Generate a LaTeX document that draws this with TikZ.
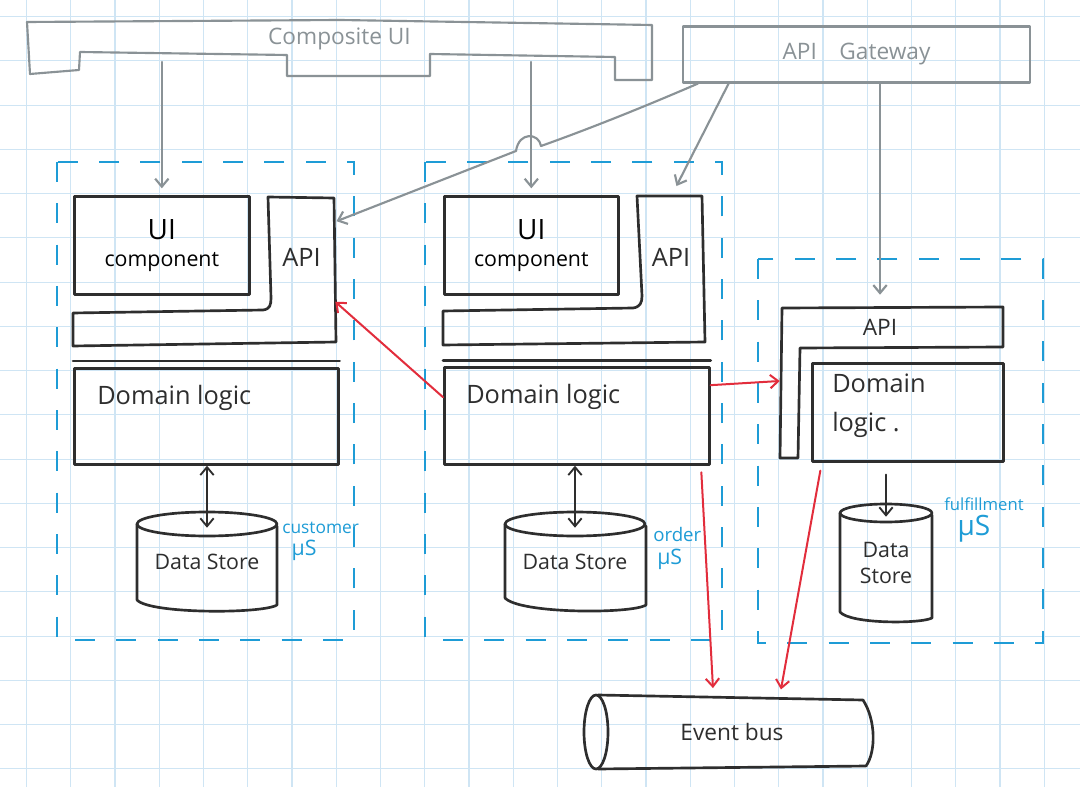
\documentclass[tikz,border=0pt]{standalone}
\usepackage{fontspec}
\setmainfont{Open Sans}
\usetikzlibrary{arrows.meta}

\definecolor{penink}{RGB}{46,46,46}
\definecolor{pengray}{RGB}{138,146,150}
\definecolor{penblue}{RGB}{30,156,214}
\definecolor{penred}{RGB}{226,45,60}
\definecolor{gridblue}{RGB}{207,229,244}

\begin{document}
\begin{tikzpicture}[x=0.75pt,y=0.75pt,yscale=-1,xscale=1,
  ink/.style={draw=penink, line width=2pt, line cap=round, line join=round},
  graypen/.style={draw=pengray, line width=1.6pt, line cap=round, line join=round},
  box/.style={ink, anchor=north west, inner sep=0pt, align=center},
  tag/.style={inner sep=0pt, minimum width=0pt, text=penink},
  msbox/.style={draw=penblue, line width=2.2pt, dash pattern=on 15pt off 16pt},
  barb/.tip={Straight Barb[length=6pt,width=10pt]},
  grayarrow/.style={graypen, -barb},
  inkarrow/.style={draw=penink, line width=1.4pt, line cap=round},
  redarrow/.style={draw=penred, line width=1.5pt, line cap=round, -barb},
  bluelbl/.style={inner sep=0.75pt, text=penblue, align=left, font=\fontsize{13}{16}\selectfont},
  gridline/.style={draw=gridblue, line width=0.8pt}]
\useasboundingbox (0,0) rectangle (1080,787);
\fill[white] (0,0) rectangle (1080,787);

% grid paper
\foreach \gx in {0,...,23} \draw[gridline] ({26.5+44.25*\gx},0) -- ({26.5+44.25*\gx},787);
\foreach \gy in {0,...,17} \draw[gridline] (0,{16.7+44.25*\gy}) -- (1080,{16.7+44.25*\gy});

%Shape: Composite UI
\draw[graypen] (27,22) -- (340,20) -- (652,25) -- (652,80) -- (615,80) -- (615,57) -- (430,54) -- (430,76) -- (287,76) -- (287,55) -- (80,52) -- (79,70) -- (30,74) -- cycle;
\node[inner sep=0pt, minimum width=468.75pt, minimum height=24.75pt, text=pengray, font=\fontsize{17}{20}\selectfont] (compui) at (339.5,38.5) {Composite UI};

%Shape: API Gateway
\node[graypen, minimum width=260.25pt, minimum height=42pt, text=pengray, font=\fontsize{17}{20}\selectfont] (gw) at (856.5,54.5) {API\quad Gateway};

%Shape: microservice frames
\draw[msbox] (57,162) rectangle (354,640);
\draw[msbox] (425,162) rectangle (722,640);
\draw[msbox] (758,259) rectangle (1043,643);

%%% customer service
\node[box, minimum width=131.25pt, minimum height=73.5pt, font=\fontsize{16}{20}\selectfont] (cust-ui) at (73,195) {{\fontsize{21}{24}\selectfont UI}\\component};
\draw[ink] (268,197) -- (334,198) -- (336,342) -- (73,346) -- (73,313) -- (263,310) .. controls (270,309) and (271,305) .. (271,298) -- cycle;
\node[tag, minimum width=50.25pt, minimum height=90.75pt, font=\fontsize{19}{22}\selectfont] (cust-api) at (301.5,257.5) {API};
\node[box, minimum width=198pt, minimum height=72pt] (cust-dom) at (73,367) {};
\draw[ink] ([yshift=-4.5pt]cust-dom.north west) -- ([yshift=-4.5pt]cust-dom.north east);
% Text Node
\node[tag, anchor=west, font=\fontsize{19}{22}\selectfont] (cust-dom-t) at (97,398) {Domain logic};
\draw[ink] (207,524) ellipse [x radius=70, y radius=12];
\draw[ink] (137,524) -- (137,600) .. controls (150,614) and (262,614) .. (277,605) -- (277,526);
\node[tag, minimum width=105pt, minimum height=75pt, font=\fontsize{16}{20}\selectfont] (cust-db) at (207,562) {Data Store};
\draw[inkarrow, barb-barb] (cust-dom.south -| cust-db.north) -- ([yshift=12pt]cust-db.north);
% Text Node
\node[bluelbl, anchor=north west] (cust-ms) at (281,521) {customer\\\hspace*{7pt}{\fontsize{16}{18}\selectfont μS}};

%%% order service
\node[box, minimum width=130.5pt, minimum height=73.5pt, font=\fontsize{16}{20}\selectfont] (ord-ui) at (443,195) {{\fontsize{21}{24}\selectfont UI}\\component};
\draw[ink] (637,196) -- (702,196) -- (705,342) -- (443,345) -- (443,311) -- (633,308) .. controls (640,307) and (642,303) .. (642,296) -- cycle;
\node[tag, minimum width=51pt, minimum height=90.75pt, font=\fontsize{19}{22}\selectfont] (ord-api) at (671,257.5) {API};
\node[box, minimum width=198.75pt, minimum height=72.75pt] (ord-dom) at (443,366) {};
\draw[ink] ([yshift=-4pt]ord-dom.north west) -- ([yshift=-4pt]ord-dom.north east);
% Text Node
\node[tag, anchor=west, font=\fontsize{19}{22}\selectfont] (ord-dom-t) at (466,397) {Domain logic};
\draw[ink] (575,524) ellipse [x radius=70, y radius=12];
\draw[ink] (505,524) -- (505,598) .. controls (520,614) and (632,614) .. (646,605) -- (646,526);
\node[tag, minimum width=105pt, minimum height=75pt, font=\fontsize{16}{20}\selectfont] (ord-db) at (575,562) {Data Store};
\draw[inkarrow, barb-barb] (ord-dom.south -| ord-db.north) -- ([yshift=12pt]ord-db.north);
% Text Node
\node[bluelbl, anchor=north west, font=\fontsize{14}{17}\selectfont] (ord-ms) at (652,526) {order\\\hspace*{3pt}{\fontsize{16}{18}\selectfont μS}};

%%% fulfillment service
\draw[ink] (782,308) -- (1003,307) -- (1003,347) -- (800,348) -- (798,458) -- (780,458) -- cycle;
\node[tag, minimum width=150pt, minimum height=30pt, font=\fontsize{17}{20}\selectfont] (ful-api) at (880,327) {API};
\node[box, minimum width=143.25pt, minimum height=73.5pt] (ful-dom) at (811,362) {};
% Text Node
\node[tag, anchor=north west, align=left, font=\fontsize{19}{23}\selectfont] (ful-dom-t) at (832,374) {Domain\\[6pt]logic .};
\draw[ink] (886,513) ellipse [x radius=46, y radius=9];
\draw[ink] (840,513) -- (840,612) .. controls (850,624) and (920,624) .. (932,618) -- (932,515);
\node[tag, minimum width=69pt, minimum height=75pt, align=center, font=\fontsize{16}{20}\selectfont] (ful-db) at (886,563) {Data\\Store};
\draw[inkarrow, -barb, shorten <=9pt] (ful-dom.south -| ful-db.north) -- ([yshift=3pt]ful-db.north);
% Text Node
\node[bluelbl, anchor=north west, font=\fontsize{12.5}{15}\selectfont] (ful-ms) at (943,496) {fulfillment\\[3pt]\hspace*{10pt}{\fontsize{21}{24}\selectfont μS}};

%Shape: Event bus
\draw[ink] (596,732) ellipse [x radius=12, y radius=37];
\draw[ink] (598,695) -- (863,700) .. controls (876,720) and (876,752) .. (866,766) -- (598,769);
\node[tag, minimum width=204pt, minimum height=55.5pt, font=\fontsize{17}{20}\selectfont] (bus) at (732,732) {Event bus};

% requests
\draw[grayarrow, shorten <=5pt, shorten >=5pt] (compui.south -| cust-ui.north) -- (cust-ui.north);
\draw[grayarrow, shorten <=5pt, shorten >=5pt] (compui.south -| ord-ui.north) -- (ord-ui.north);
\draw[grayarrow, shorten >=1pt] ([xshift=12pt]gw.south west) .. controls (660,100) and (600,125) .. (541,146) .. controls (539,133) and (519,131) .. (516,151) -- ([yshift=18.75pt]cust-api.north east);
\draw[grayarrow, shorten >=9pt] ([xshift=35pt]gw.south west) -- (ord-api.north);
\draw[grayarrow, shorten >=9pt] (gw.south -| ful-api.north) -- (ful-api.north);

% events and calls
\draw[redarrow] ([yshift=-14pt]ord-dom.west) -- ([yshift=78.75pt]cust-api.north east);
\draw[redarrow] ([yshift=-23pt]ord-dom.east) -- ([yshift=40.5pt]ful-api.west);
\draw[redarrow, shorten >=5pt] ([xshift=-7pt,yshift=5pt]ord-dom.south east) -- ([xshift=-14pt]bus.north);
\draw[redarrow, shorten >=4pt] ([xshift=7pt,yshift=6pt]ful-dom.south west) -- ([xshift=36pt]bus.north);

\end{tikzpicture}
\end{document}
